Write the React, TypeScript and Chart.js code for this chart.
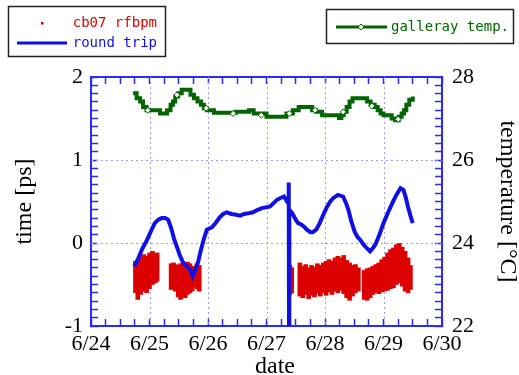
import React, { useEffect, useRef } from 'react';
import { Chart, registerables } from 'chart.js';
Chart.register(...registerables);

// ---- data ----
const dateLabels = ['6/24', '6/25', '6/26', '6/27', '6/28', '6/29', '6/30'];
const timeTicks = [-1, 0, 1, 2];
const tempTicks = [22, 24, 26, 28];

// round trip (days since 6/24 00:00, ps)
const rtDays = [0.74, 0.80, 0.87, 0.96, 1.03, 1.09, 1.15, 1.21, 1.27, 1.32, 1.37, 1.42, 1.47, 1.52, 1.57, 1.62, 1.66, 1.70, 1.74, 1.78, 1.83, 1.88, 1.93, 1.98, 2.07, 2.14, 2.20, 2.26, 2.32, 2.40, 2.48, 2.55, 2.62, 2.70, 2.77, 2.85, 2.92, 3.00, 3.06, 3.12, 3.18, 3.23, 3.30, 3.35, 3.375, 3.38, 3.385, 3.39, 3.44, 3.50, 3.54, 3.60, 3.65, 3.69, 3.75, 3.79, 3.85, 3.91, 3.97, 4.03, 4.09, 4.14, 4.22, 4.31, 4.36, 4.40, 4.45, 4.51, 4.56, 4.60, 4.66, 4.71, 4.77, 4.82, 4.86, 4.93, 5.00, 5.08, 5.15, 5.22, 5.29, 5.34, 5.38, 5.42, 5.46, 5.50];
const rtPs = [-0.28, -0.20, -0.08, 0.04, 0.15, 0.24, 0.28, 0.30, 0.30, 0.28, 0.18, 0.05, -0.05, -0.15, -0.23, -0.27, -0.29, -0.33, -0.40, -0.33, -0.23, -0.08, 0.05, 0.16, 0.19, 0.25, 0.31, 0.35, 0.37, 0.35, 0.34, 0.33, 0.35, 0.36, 0.37, 0.40, 0.42, 0.43, 0.44, 0.48, 0.52, 0.54, 0.56, 0.50, 0.48, 0.73, -1.05, 0.40, 0.36, 0.28, 0.24, 0.22, 0.19, 0.16, 0.13, 0.13, 0.16, 0.24, 0.34, 0.43, 0.50, 0.54, 0.58, 0.56, 0.48, 0.40, 0.26, 0.13, 0.07, 0.04, -0.02, -0.06, -0.10, -0.06, -0.02, 0.10, 0.24, 0.37, 0.48, 0.58, 0.66, 0.64, 0.55, 0.43, 0.33, 0.24];

// cb07 rfbpm spread (days, low ps, high ps)
const rfDays = [0.76, 0.80, 0.85, 0.90, 0.95, 1.00, 1.05, 1.10, 1.13,
  1.37, 1.41, 1.44, 1.49, 1.53, 1.57, 1.61, 1.65, 1.69, 1.73, 1.76, 1.81, 1.85,
  3.40, 3.43,
  3.57, 3.62, 3.67, 3.72, 3.77, 3.82, 3.87, 3.92, 3.97, 4.02, 4.07, 4.12, 4.17, 4.22, 4.27, 4.32, 4.37, 4.42, 4.47, 4.52, 4.57,
  4.67, 4.72, 4.77, 4.82, 4.87, 4.92, 4.97, 5.02, 5.07, 5.12, 5.17, 5.22, 5.27, 5.32, 5.37, 5.42, 5.46];
const rfLo = [-0.60, -0.68, -0.62, -0.58, -0.60, -0.55, -0.50, -0.48, -0.46,
  -0.56, -0.52, -0.58, -0.65, -0.68, -0.64, -0.66, -0.62, -0.60, -0.58, -0.52, -0.55, -0.58,
  -0.62, -0.60,
  -0.64, -0.66, -0.62, -0.67, -0.63, -0.65, -0.61, -0.64, -0.60, -0.63, -0.59, -0.62, -0.58, -0.60, -0.57, -0.61, -0.66, -0.69, -0.64, -0.60, -0.58,
  -0.68, -0.69, -0.66, -0.62, -0.60, -0.61, -0.59, -0.58, -0.57, -0.55, -0.54, -0.50, -0.48, -0.52, -0.58, -0.60, -0.56];
const rfHi = [-0.22, -0.20, -0.17, -0.14, -0.16, -0.12, -0.10, -0.13, -0.12,
  -0.25, -0.24, -0.26, -0.27, -0.25, -0.24, -0.26, -0.23, -0.25, -0.28, -0.30, -0.25, -0.27,
  -0.27, -0.30,
  -0.24, -0.28, -0.26, -0.30, -0.27, -0.29, -0.25, -0.27, -0.24, -0.22, -0.20, -0.22, -0.18, -0.16, -0.18, -0.15, -0.21, -0.24, -0.27, -0.26, -0.30,
  -0.33, -0.31, -0.30, -0.28, -0.26, -0.24, -0.20, -0.17, -0.12, -0.08, -0.06, -0.02, 0.00, -0.05, -0.10, -0.18, -0.27];

// galleray temperature (days, degC)
const tempDays = [0.72, 0.78, 0.84, 0.89, 0.95, 1.18, 1.30, 1.36, 1.40, 1.44, 1.49, 1.55, 1.70, 1.76, 1.82, 1.88, 1.93, 1.98, 2.10, 2.48, 2.70, 2.78, 3.00, 3.34, 3.45, 3.55, 3.78, 3.85, 3.95, 4.24, 4.28, 4.32, 4.37, 4.42, 4.47, 4.72, 4.78, 4.85, 4.90, 4.95, 5.00, 5.14, 5.20, 5.26, 5.31, 5.35, 5.39, 5.44, 5.50];
const tempC = [27.61, 27.49, 27.41, 27.28, 27.20, 27.12, 27.20, 27.33, 27.41, 27.53, 27.61, 27.69, 27.57, 27.49, 27.41, 27.33, 27.25, 27.20, 27.14, 27.16, 27.20, 27.12, 27.04, 27.12, 27.20, 27.28, 27.20, 27.16, 27.08, 27.01, 27.08, 27.16, 27.28, 27.41, 27.49, 27.41, 27.33, 27.28, 27.20, 27.12, 27.08, 27.00, 26.96, 27.04, 27.12, 27.20, 27.33, 27.45, 27.53];
const tempMarkDays = [0.97, 1.47, 1.97, 2.43, 2.91, 3.39, 3.83, 4.31, 4.80, 5.25];
const tempMarkC = [27.20, 27.57, 27.25, 27.12, 27.08, 27.12, 27.20, 27.16, 27.30, 26.98];

// ---- styles ----
const RED = '#dd0000';
const BLUE = '#1010e6';
const GREEN = '#006400';
const AXIS = '#2a2aff';
const GRID = '#9a9aff';
const SERIF = '"Liberation Serif", "Times New Roman", serif';
const MONO = '"DejaVu Sans Mono", "Liberation Mono", monospace';
const TICK_LEN = -7;

const isMultiple = (v: number, m: number) => Math.abs(v / m - Math.round(v / m)) < 1e-6;

function drawGrid(chart: any) {
  const { ctx, chartArea: a, scales } = chart;
  ctx.save();
  ctx.strokeStyle = GRID;
  ctx.lineWidth = 1;
  ctx.setLineDash([2, 3]);
  ctx.beginPath();
  for (let i = 1; i < dateLabels.length - 1; i++) {
    const px = Math.round(scales.x.getPixelForValue(i)) + 0.5;
    ctx.moveTo(px, a.top);
    ctx.lineTo(px, a.bottom);
  }
  for (let k = 1; k < timeTicks.length - 1; k++) {
    const py = Math.round(scales.y.getPixelForValue(timeTicks[k])) + 0.5;
    ctx.moveTo(a.left, py);
    ctx.lineTo(a.right, py);
  }
  ctx.stroke();
  ctx.restore();
}

function drawLegends(chart: any) {
  const { ctx } = chart;
  ctx.save();
  ctx.setLineDash([]);
  ctx.fillStyle = '#000';
  ctx.font = `24px ${SERIF}`;
  ctx.textAlign = 'center';
  ctx.textBaseline = 'alphabetic';
  ctx.fillText('date', 275, 373);

  ctx.lineWidth = 1.5;
  ctx.strokeStyle = '#222';
  ctx.fillStyle = '#fff';
  ctx.fillRect(8.5, 6.5, 157, 50);
  ctx.strokeRect(8.5, 6.5, 157, 50);
  ctx.fillStyle = RED;
  ctx.fillRect(41, 22, 2.5, 2.5);
  ctx.strokeStyle = BLUE;
  ctx.lineWidth = 3;
  ctx.beginPath();
  ctx.moveTo(17, 43);
  ctx.lineTo(67, 43);
  ctx.stroke();
  ctx.font = `14px ${MONO}`;
  ctx.textAlign = 'right';
  ctx.textBaseline = 'middle';
  ctx.fillStyle = RED;
  ctx.fillText('cb07 rfbpm', 157, 23);
  ctx.fillStyle = BLUE;
  ctx.fillText('round trip', 157, 43);

  ctx.lineWidth = 1.5;
  ctx.strokeStyle = '#222';
  ctx.fillStyle = '#fff';
  ctx.fillRect(326.5, 9.5, 187, 34);
  ctx.strokeRect(326.5, 9.5, 187, 34);
  ctx.strokeStyle = GREEN;
  ctx.lineWidth = 3;
  ctx.beginPath();
  ctx.moveTo(336, 27);
  ctx.lineTo(387, 27);
  ctx.stroke();
  ctx.lineWidth = 1;
  ctx.fillStyle = '#fff';
  ctx.beginPath();
  ctx.moveTo(361, 24);
  ctx.lineTo(364, 27);
  ctx.lineTo(361, 30);
  ctx.lineTo(358, 27);
  ctx.closePath();
  ctx.fill();
  ctx.stroke();
  ctx.fillStyle = GREEN;
  ctx.textAlign = 'left';
  ctx.fillText('galleray temp.', 391, 27);
  ctx.restore();
}

const overlayPlugin = {
  id: 'overlay',
  beforeDatasetsDraw(chart: any) {
    drawGrid(chart);
  },
  afterDraw(chart: any) {
    drawLegends(chart);
  },
};

const axisGrid = {
  display: true,
  drawOnChartArea: false,
  drawTicks: true,
  tickLength: TICK_LEN,
  tickColor: AXIS,
  tickWidth: 1.5,
  offset: false,
};
const axisBorder = { display: true, color: AXIS, width: 2 };
const tickFont = { family: SERIF, size: 22 };

export default function App() {
  const ref = useRef<HTMLCanvasElement | null>(null);
  useEffect(() => {
    if (!ref.current) return;
    const chart = new Chart(ref.current, {
      type: 'line',
      data: {
        datasets: [
          {
            type: 'bar',
            label: 'cb07 rfbpm',
            data: rfDays.map((d, i) => ({ x: d, y: [rfLo[i], rfHi[i]] })) as any,
            backgroundColor: RED,
            borderWidth: 0,
            barThickness: 4,
            grouped: false,
            xAxisID: 'x',
            yAxisID: 'y',
            order: 3,
          } as any,
          {
            type: 'line',
            label: 'round trip',
            data: rtDays.map((d, i) => ({ x: d, y: rtPs[i] })),
            borderColor: BLUE,
            borderWidth: 4,
            pointRadius: 0,
            tension: 0,
            xAxisID: 'x',
            yAxisID: 'y',
            order: 1,
          },
          {
            type: 'line',
            label: 'galleray temp.',
            data: tempDays.map((d, i) => ({ x: d, y: tempC[i] })),
            borderColor: GREEN,
            borderWidth: 4,
            stepped: true,
            pointRadius: 0,
            xAxisID: 'x',
            yAxisID: 'y2',
            order: 2,
          },
          {
            type: 'line',
            label: 'galleray temp. markers',
            data: tempMarkDays.map((d, i) => ({ x: d, y: tempMarkC[i] })),
            showLine: false,
            pointStyle: 'rectRot',
            pointRadius: 3,
            pointBackgroundColor: '#ffffff',
            pointBorderColor: GREEN,
            pointBorderWidth: 1,
            xAxisID: 'x',
            yAxisID: 'y2',
            order: 0,
          },
        ],
      },
      options: {
        responsive: false,
        animation: false,
        events: [],
        layout: { padding: { top: 77, left: 0, right: 0, bottom: 0 } },
        plugins: { legend: { display: false }, tooltip: { enabled: false } },
        scales: {
          x: {
            type: 'linear',
            position: 'bottom',
            offset: false,
            min: 0,
            max: dateLabels.length - 1,
            grid: axisGrid,
            border: axisBorder,
            ticks: {
              stepSize: 0.25,
              autoSkip: false,
              maxTicksLimit: 1000,
              maxRotation: 0,
              minRotation: 0,
              padding: 5 - TICK_LEN,
              color: '#000',
              font: tickFont,
              callback: (v: any) => (isMultiple(Number(v), 1) ? dateLabels[Math.round(Number(v))] ?? '' : ''),
            },
            afterFit: (s: any) => { s.height = 49; },
          },
          x2: {
            type: 'linear',
            position: 'top',
            offset: false,
            min: 0,
            max: dateLabels.length - 1,
            grid: axisGrid,
            border: axisBorder,
            ticks: {
              stepSize: 0.25,
              autoSkip: false,
              maxTicksLimit: 1000,
              maxRotation: 0,
              minRotation: 0,
              callback: () => '',
            },
            afterFit: (s: any) => { s.height = 0; },
          },
          y: {
            type: 'linear',
            position: 'left',
            min: timeTicks[0],
            max: timeTicks[timeTicks.length - 1],
            grid: axisGrid,
            border: axisBorder,
            ticks: {
              stepSize: 0.1,
              autoSkip: false,
              maxTicksLimit: 1000,
              padding: 8 - TICK_LEN,
              color: '#000',
              font: tickFont,
              callback: (v: any) => (isMultiple(Number(v), 1) ? String(Math.round(Number(v))) : ''),
            },
            title: {
              display: true,
              text: 'time [ps]',
              color: '#000',
              font: { family: SERIF, size: 24, lineHeight: 1 },
              padding: { top: 13, bottom: 0 },
            },
            afterFit: (s: any) => { s.width = 91; },
          },
          y2: {
            type: 'linear',
            position: 'right',
            min: tempTicks[0],
            max: tempTicks[tempTicks.length - 1],
            grid: axisGrid,
            border: axisBorder,
            ticks: {
              stepSize: 0.2,
              autoSkip: false,
              maxTicksLimit: 1000,
              padding: 10 - TICK_LEN,
              color: '#000',
              font: tickFont,
              callback: (v: any) => (isMultiple(Number(v), 2) ? String(Math.round(Number(v))) : ''),
            },
            title: {
              display: true,
              text: 'temperature [°C]',
              color: '#000',
              font: { family: SERIF, size: 24, lineHeight: 1 },
              padding: { top: 0, bottom: 0 },
            },
            afterFit: (s: any) => { s.width = 77; },
          },
        },
      },
      plugins: [overlayPlugin],
    });
    return () => chart.destroy();
  }, []);

  return (
    <div style={{ position: 'absolute', left: 0, top: 0, width: 519, height: 375, background: '#fff' }}>
      <canvas ref={ref} width={519} height={375} style={{ display: 'block' }} />
    </div>
  );
}
